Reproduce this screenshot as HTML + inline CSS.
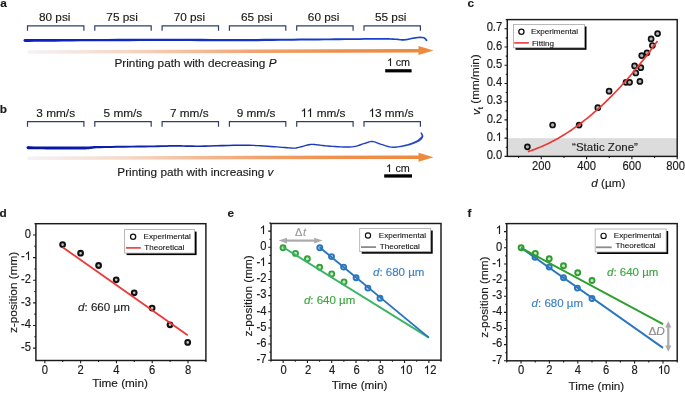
<!DOCTYPE html>
<html><head><meta charset="utf-8"><style>
html,body{margin:0;padding:0;background:#fff;}
svg{display:block;will-change:transform;}
svg{fill:#1a1a1a;} text{font-family:"Liberation Sans", sans-serif;} .o1{fill-opacity:0;stroke-opacity:0;}
</style></head><body>
<svg width="685" height="393" viewBox="0 0 685 393">
<rect width="685" height="393" fill="#fff"/>
<text stroke="#1a1a1a" stroke-width="0.15" x="0.3" y="6.8" font-size="11.8" font-weight="bold">a</text>
<text stroke="#1a1a1a" stroke-width="0.15" x="54.7" y="20.7" text-anchor="middle" font-size="11.8">80 psi</text>
<text stroke="#1a1a1a" stroke-width="0.15" x="122.1" y="20.7" text-anchor="middle" font-size="11.8">75 psi</text>
<text stroke="#1a1a1a" stroke-width="0.15" x="189.4" y="20.7" text-anchor="middle" font-size="11.8">70 psi</text>
<text stroke="#1a1a1a" stroke-width="0.15" x="256.8" y="20.7" text-anchor="middle" font-size="11.8">65 psi</text>
<text stroke="#1a1a1a" stroke-width="0.15" x="323.6" y="20.7" text-anchor="middle" font-size="11.8">60 psi</text>
<text stroke="#1a1a1a" stroke-width="0.15" x="390.7" y="20.7" text-anchor="middle" font-size="11.8">55 psi</text>
<path d="M27.5 30.8V25.8H83.9V30.8 M94.8 30.8V25.8H151.2V30.8 M162.1 30.8V25.8H218.5V30.8 M229.4 30.8V25.8H285.8V30.8 M296.7 30.8V25.8H353.1V30.8 M364 30.8V25.8H420.4V30.8" stroke="#2d4069" stroke-width="1.2" fill="none"/>
<defs><linearGradient id="ga" x1="28" x2="420" y1="0" y2="0" gradientUnits="userSpaceOnUse"><stop offset="0" stop-color="#f5f2f7"/><stop offset="0.25" stop-color="#f5d8c6"/><stop offset="0.45" stop-color="#f3b993"/><stop offset="0.6" stop-color="#f0a16c"/><stop offset="0.8" stop-color="#ee8f4c"/><stop offset="1" stop-color="#ee8a3d"/></linearGradient></defs>
<path d="M27.6 50.25L419 49.05L419 52.55L27.6 53.75Z" fill="url(#ga)"/>
<path d="M418.5 46.1L433.5 50.6L418.5 55.1Z" fill="#ee8a3d"/>
<defs><linearGradient id="bla" x1="25" x2="428" y1="0" y2="0" gradientUnits="userSpaceOnUse"><stop offset="0" stop-color="#0a20c0"/><stop offset="1" stop-color="#1a45d0"/></linearGradient></defs>
<path d="M25.01 41.95 L29.08 41.91 L34.31 41.85 L40.51 41.78 L47.51 41.71 L55.13 41.63 L63.21 41.54 L71.56 41.46 L80.01 41.37 L88.81 41.31 L98.25 41.26 L108.17 41.22 L118.44 41.17 L128.91 41.13 L139.42 41.09 L149.83 41.06 L160 41.05 L170.13 41.06 L180.47 41.08 L190.87 41.12 L201.25 41.16 L211.46 41.2 L221.4 41.24 L230.96 41.26 L240 41.25 L248.56 41.2 L256.77 41.14 L264.63 41.06 L272.2 40.97 L279.49 40.87 L286.53 40.78 L293.36 40.7 L300.01 40.62 L306.42 40.55 L312.55 40.48 L318.42 40.42 L324.07 40.36 L329.53 40.3 L334.81 40.24 L339.96 40.18 L345.01 40.12 L350 40.05 L354.93 39.98 L359.75 39.9 L364.39 39.83 L368.79 39.76 L372.9 39.7 L376.66 39.66 L380 39.64 L382.87 39.65 L385.28 39.67 L387.33 39.71 L389.1 39.75 L390.66 39.81 L392.1 39.88 L393.51 39.94 L394.96 40.01 L396.35 40.09 L397.6 40.21 L398.74 40.34 L399.81 40.47 L400.84 40.59 L401.88 40.68 L402.93 40.72 L404.04 40.7 L405.19 40.6 L406.33 40.43 L407.45 40.22 L408.55 39.98 L409.63 39.73 L410.67 39.48 L411.67 39.27 L412.64 39.09 L413.59 38.93 L414.53 38.78 L415.45 38.64 L416.34 38.5 L417.2 38.39 L418.02 38.3 L418.79 38.23 L419.52 38.2 L420.22 38.19 L420.89 38.2 L421.51 38.23 L422.1 38.29 L422.64 38.37 L423.14 38.47 L423.59 38.59 L423.97 38.73 L424.28 38.9 L424.57 39.13 L424.86 39.41 L425.12 39.73 L425.37 40.06 L425.59 40.39 L425.8 40.68 L425.98 40.9 L427.22 39.9 L427.08 39.72 L426.9 39.47 L426.67 39.13 L426.38 38.74 L426.04 38.33 L425.64 37.93 L425.16 37.56 L424.63 37.27 L424.08 37.07 L423.51 36.91 L422.92 36.79 L422.29 36.7 L421.63 36.64 L420.94 36.6 L420.22 36.59 L419.48 36.6 L418.69 36.64 L417.86 36.71 L417 36.8 L416.12 36.92 L415.21 37.05 L414.28 37.2 L413.33 37.35 L412.36 37.51 L411.35 37.7 L410.32 37.92 L409.26 38.17 L408.2 38.42 L407.13 38.65 L406.06 38.86 L405 39.01 L403.96 39.1 L402.95 39.12 L401.98 39.08 L401.01 39 L400 38.88 L398.93 38.74 L397.77 38.61 L396.48 38.48 L395.04 38.39 L393.59 38.32 L392.18 38.24 L390.73 38.17 L389.15 38.11 L387.37 38.05 L385.31 38 L382.88 37.97 L380 37.96 L376.65 37.96 L372.88 37.98 L368.77 38.02 L364.36 38.07 L359.72 38.13 L354.91 38.18 L349.98 38.24 L344.99 38.28 L339.95 38.32 L334.8 38.36 L329.51 38.39 L324.05 38.43 L318.4 38.46 L312.53 38.5 L306.4 38.54 L299.99 38.58 L293.34 38.63 L286.51 38.69 L279.47 38.75 L272.18 38.81 L264.61 38.86 L256.75 38.91 L248.55 38.94 L240 38.95 L230.96 38.96 L221.41 38.94 L211.47 38.9 L201.25 38.86 L190.88 38.82 L180.47 38.78 L170.14 38.76 L160 38.75 L149.83 38.76 L139.41 38.79 L128.9 38.83 L118.43 38.87 L108.16 38.92 L98.24 38.96 L88.8 39.01 L79.99 39.03 L71.55 39.02 L63.2 39.02 L55.12 39.03 L47.49 39.03 L40.49 39.04 L34.29 39.04 L29.06 39.05 L24.99 39.05Z" fill="url(#bla)"/>
<circle cx="25" cy="40.5" r="1.45" fill="#0a20c0"/>
<circle cx="426.6" cy="40.4" r="0.8" fill="#1a45d0"/>
<text stroke="#1a1a1a" stroke-width="0.15" x="114.5" y="66.9" font-size="11.75">Printing path with decreasing <tspan font-style="italic">P</tspan></text>
<rect x="385.2" y="69.2" width="26.4" height="3.2" fill="#000"/>
<text stroke="#1a1a1a" stroke-width="0.15" x="398.4" y="66.2" text-anchor="middle" font-size="10.8"><tspan class="o1">1</tspan> cm</text>
<text stroke="#1a1a1a" stroke-width="0.15" x="-0.2" y="112.6" font-size="11.8" font-weight="bold">b</text>
<text stroke="#1a1a1a" stroke-width="0.15" x="55.7" y="116.6" text-anchor="middle" font-size="11.8">3 mm/s</text>
<text stroke="#1a1a1a" stroke-width="0.15" x="122.9" y="116.6" text-anchor="middle" font-size="11.8">5 mm/s</text>
<text stroke="#1a1a1a" stroke-width="0.15" x="189.3" y="116.6" text-anchor="middle" font-size="11.8">7 mm/s</text>
<text stroke="#1a1a1a" stroke-width="0.15" x="256" y="116.6" text-anchor="middle" font-size="11.8">9 mm/s</text>
<text stroke="#1a1a1a" stroke-width="0.15" x="323.3" y="116.6" text-anchor="middle" font-size="11.8"><tspan class="o1">1</tspan><tspan class="o1">1</tspan> mm/s</text>
<text stroke="#1a1a1a" stroke-width="0.15" x="391" y="116.6" text-anchor="middle" font-size="11.8"><tspan class="o1">1</tspan>3 mm/s</text>
<path d="M27.5 126.7V121.7H83.9V126.7 M94.8 126.7V121.7H151.2V126.7 M162.1 126.7V121.7H218.5V126.7 M229.4 126.7V121.7H285.8V126.7 M296.7 126.7V121.7H353.1V126.7 M364 126.7V121.7H420.4V126.7" stroke="#2d4069" stroke-width="1.2" fill="none"/>
<defs><linearGradient id="gb" x1="28" x2="420" y1="0" y2="0" gradientUnits="userSpaceOnUse"><stop offset="0" stop-color="#f5f2f7"/><stop offset="0.25" stop-color="#f5d8c6"/><stop offset="0.45" stop-color="#f3b993"/><stop offset="0.6" stop-color="#f0a16c"/><stop offset="0.8" stop-color="#ee8f4c"/><stop offset="1" stop-color="#ee8a3d"/></linearGradient></defs>
<path d="M27.6 156.45L419 155.45L419 158.95L27.6 159.95Z" fill="url(#gb)"/>
<path d="M418.5 152.7L433.5 157.2L418.5 161.7Z" fill="#ee8a3d"/>
<defs><linearGradient id="blb" x1="25" x2="428" y1="0" y2="0" gradientUnits="userSpaceOnUse"><stop offset="0" stop-color="#0614a0"/><stop offset="1" stop-color="#2549c8"/></linearGradient></defs>
<path d="M27.99 149.25 L30.51 149.27 L33.9 149.29 L37.95 149.32 L42.43 149.35 L47.1 149.38 L51.73 149.41 L56.11 149.43 L59.99 149.45 L63.52 149.47 L66.97 149.49 L70.32 149.5 L73.56 149.52 L76.67 149.52 L79.62 149.52 L82.42 149.49 L85.04 149.45 L87.18 149.32 L88.74 149.18 L89.96 149.03 L91.07 148.88 L92.36 148.71 L94.1 148.54 L96.56 148.35 L100.03 148.15 L104.77 148.04 L110.64 147.93 L117.3 147.82 L124.39 147.72 L131.55 147.62 L138.45 147.52 L144.72 147.42 L150.01 147.33 L154.34 147.25 L158.03 147.16 L161.23 147.07 L164.09 146.99 L166.74 146.91 L169.35 146.85 L172.06 146.8 L175 146.77 L177.98 146.78 L180.77 146.81 L183.49 146.87 L186.25 146.93 L189.17 146.99 L192.36 147.03 L195.94 147.05 L200.01 147.02 L204.76 146.93 L210.15 146.78 L215.99 146.59 L222.06 146.39 L228.16 146.2 L234.09 146.04 L239.64 145.94 L244.6 145.91 L249.04 145.97 L253.19 146.1 L257.09 146.28 L260.76 146.5 L264.23 146.73 L267.53 146.97 L270.7 147.2 L273.75 147.4 L276.7 147.59 L279.52 147.8 L282.19 148.02 L284.7 148.24 L287.03 148.43 L289.17 148.6 L291.09 148.73 L292.78 148.8 L294.11 148.83 L295.06 148.82 L295.75 148.78 L296.29 148.71 L296.76 148.59 L297.23 148.45 L297.85 148.29 L298.76 148.08 L299.98 147.8 L301.4 147.43 L302.94 147 L304.54 146.56 L306.15 146.12 L307.71 145.73 L309.14 145.41 L310.4 145.19 L311.44 145.08 L312.32 145.05 L313.1 145.07 L313.83 145.13 L314.59 145.23 L315.42 145.35 L316.39 145.48 L317.53 145.6 L318.76 145.72 L320.03 145.87 L321.37 146.04 L322.8 146.23 L324.35 146.41 L326.04 146.59 L327.91 146.76 L329.96 146.9 L332.31 147.04 L335 147.21 L337.93 147.38 L340.96 147.53 L344 147.65 L346.91 147.71 L349.6 147.7 L351.95 147.6 L353.97 147.37 L355.77 147.03 L357.36 146.61 L358.8 146.14 L360.13 145.65 L361.37 145.18 L362.57 144.74 L363.8 144.37 L365.04 144.01 L366.21 143.63 L367.31 143.24 L368.34 142.89 L369.34 142.59 L370.32 142.36 L371.29 142.23 L372.27 142.2 L373.26 142.3 L374.24 142.52 L375.23 142.84 L376.25 143.23 L377.32 143.67 L378.44 144.13 L379.63 144.57 L380.89 144.97 L382.19 145.36 L383.53 145.8 L384.93 146.27 L386.39 146.73 L387.9 147.16 L389.47 147.52 L391.1 147.78 L392.78 147.9 L394.55 147.88 L396.42 147.75 L398.35 147.52 L400.31 147.22 L402.26 146.89 L404.15 146.54 L405.95 146.18 L407.61 145.83 L409.16 145.45 L410.67 145.03 L412.11 144.58 L413.48 144.1 L414.77 143.61 L415.98 143.1 L417.1 142.58 L418.14 142.05 L419.09 141.51 L419.97 140.94 L420.76 140.34 L421.45 139.72 L422.06 139.08 L422.53 138.41 L422.91 137.75 L423.21 137.06 L423.36 136.27 L423.29 135.5 L423.06 134.83 L422.77 134.24 L422.45 133.72 L422.15 133.29 L421.93 132.97 L421.79 132.74 L420.61 133.26 L420.72 133.59 L420.92 134 L421.13 134.45 L421.32 134.91 L421.46 135.37 L421.53 135.78 L421.5 136.08 L421.39 136.34 L421.15 136.69 L420.8 137.11 L420.35 137.56 L419.86 138.06 L419.28 138.57 L418.63 139.1 L417.89 139.63 L417.06 140.15 L416.13 140.67 L415.1 141.2 L413.97 141.74 L412.76 142.27 L411.47 142.79 L410.11 143.28 L408.68 143.74 L407.19 144.17 L405.58 144.6 L403.83 145.03 L401.98 145.46 L400.08 145.83 L398.16 146.13 L396.28 146.35 L394.49 146.48 L392.82 146.5 L391.26 146.39 L389.74 146.14 L388.25 145.8 L386.79 145.39 L385.36 144.94 L383.97 144.47 L382.61 144.03 L381.31 143.63 L380.09 143.25 L378.95 142.82 L377.85 142.38 L376.77 141.93 L375.7 141.52 L374.61 141.17 L373.49 140.92 L372.33 140.8 L371.17 140.83 L370.06 140.99 L368.98 141.24 L367.92 141.56 L366.85 141.92 L365.76 142.3 L364.62 142.67 L363.4 143.03 L362.13 143.41 L360.88 143.87 L359.63 144.34 L358.35 144.82 L356.97 145.27 L355.46 145.67 L353.77 145.99 L351.85 146.2 L349.57 146.3 L346.93 146.31 L344.04 146.25 L341.03 146.13 L338 145.98 L335.09 145.81 L332.4 145.64 L330.04 145.5 L328.02 145.36 L326.18 145.2 L324.51 145.02 L322.97 144.84 L321.55 144.65 L320.2 144.48 L318.92 144.33 L317.67 144.2 L316.55 144.09 L315.61 143.97 L314.78 143.85 L313.98 143.74 L313.18 143.67 L312.31 143.65 L311.34 143.69 L310.2 143.81 L308.87 144.03 L307.38 144.36 L305.8 144.77 L304.17 145.21 L302.56 145.65 L301.03 146.08 L299.64 146.44 L298.44 146.72 L297.52 146.93 L296.86 147.1 L296.39 147.24 L296.02 147.33 L295.62 147.39 L295.02 147.42 L294.12 147.43 L292.82 147.4 L291.17 147.33 L289.27 147.2 L287.15 147.04 L284.82 146.84 L282.31 146.63 L279.63 146.41 L276.8 146.2 L273.85 146 L270.79 145.8 L267.63 145.58 L264.32 145.34 L260.84 145.1 L257.16 144.88 L253.25 144.7 L249.07 144.57 L244.6 144.49 L239.62 144.49 L234.06 144.57 L228.12 144.7 L222.01 144.86 L215.94 145.03 L210.11 145.19 L204.73 145.31 L199.99 145.38 L195.94 145.39 L192.38 145.36 L189.21 145.31 L186.3 145.23 L183.53 145.16 L180.81 145.09 L178 145.04 L175 145.03 L172.04 145.04 L169.32 145.08 L166.7 145.13 L164.04 145.19 L161.18 145.26 L157.99 145.33 L154.3 145.4 L149.99 145.47 L144.69 145.53 L138.43 145.6 L131.53 145.66 L124.36 145.73 L117.27 145.8 L110.61 145.88 L104.73 145.96 L99.97 146.05 L96.47 146.07 L93.95 146.12 L92.14 146.21 L90.8 146.31 L89.68 146.41 L88.53 146.48 L87.05 146.54 L84.96 146.55 L82.38 146.59 L79.61 146.62 L76.66 146.62 L73.57 146.62 L70.33 146.6 L66.98 146.59 L63.54 146.57 L60.01 146.55 L56.12 146.53 L51.75 146.51 L47.12 146.48 L42.45 146.45 L37.97 146.42 L33.92 146.39 L30.53 146.37 L28.01 146.35Z" fill="url(#blb)"/>
<circle cx="28" cy="147.8" r="1.45" fill="#0614a0"/>
<circle cx="421.2" cy="133" r="0.65" fill="#2549c8"/>
<text stroke="#1a1a1a" stroke-width="0.15" x="117.3" y="175.9" font-size="11.75">Printing path with increasing <tspan font-style="italic">v</tspan></text>
<rect x="384.2" y="174.3" width="27.8" height="3.3" fill="#000"/>
<text stroke="#1a1a1a" stroke-width="0.15" x="398.1" y="171.8" text-anchor="middle" font-size="10.8"><tspan class="o1">1</tspan> cm</text>
<text stroke="#1a1a1a" stroke-width="0.15" x="467.6" y="6.9" font-size="11.8" font-weight="bold">c</text>
<rect x="507.3" y="138.16" width="169.9" height="18.24" fill="#dcdcdc"/>
<text stroke="#222" stroke-width="0.15" x="605" y="150.8" text-anchor="middle" font-size="11.5" fill="#222">“Static Zone”</text>
<circle cx="527.4" cy="146.8" r="2.5" fill="#b4b4b4" stroke="#111" stroke-width="1.7"/>
<circle cx="552.6" cy="125" r="2.5" fill="#b4b4b4" stroke="#111" stroke-width="1.7"/>
<circle cx="579.1" cy="125.1" r="2.5" fill="#b4b4b4" stroke="#111" stroke-width="1.7"/>
<circle cx="597.8" cy="107.7" r="2.5" fill="#b4b4b4" stroke="#111" stroke-width="1.7"/>
<circle cx="609.1" cy="91.2" r="2.5" fill="#b4b4b4" stroke="#111" stroke-width="1.7"/>
<circle cx="626" cy="82.3" r="2.5" fill="#b4b4b4" stroke="#111" stroke-width="1.7"/>
<circle cx="629.6" cy="82.3" r="2.5" fill="#b4b4b4" stroke="#111" stroke-width="1.7"/>
<circle cx="639.9" cy="81.4" r="2.5" fill="#b4b4b4" stroke="#111" stroke-width="1.7"/>
<circle cx="634.6" cy="65.9" r="2.5" fill="#b4b4b4" stroke="#111" stroke-width="1.7"/>
<circle cx="640.8" cy="67.7" r="2.5" fill="#b4b4b4" stroke="#111" stroke-width="1.7"/>
<circle cx="635.8" cy="73" r="2.5" fill="#b4b4b4" stroke="#111" stroke-width="1.7"/>
<circle cx="641.7" cy="55.6" r="2.5" fill="#b4b4b4" stroke="#111" stroke-width="1.7"/>
<circle cx="647" cy="52.8" r="2.5" fill="#b4b4b4" stroke="#111" stroke-width="1.7"/>
<circle cx="652.4" cy="45.5" r="2.5" fill="#b4b4b4" stroke="#111" stroke-width="1.7"/>
<circle cx="651.1" cy="38.9" r="2.5" fill="#b4b4b4" stroke="#111" stroke-width="1.7"/>
<circle cx="657.6" cy="33.6" r="2.5" fill="#b4b4b4" stroke="#111" stroke-width="1.7"/>
<path d="M527.91 151.64 L531.24 150.54 L534.56 149.34 L537.88 148.05 L541.2 146.68 L544.53 145.21 L547.85 143.65 L551.17 142 L554.49 140.25 L557.82 138.42 L561.14 136.49 L564.46 134.48 L567.78 132.37 L571.11 130.17 L574.43 127.88 L577.75 125.49 L581.07 123.02 L584.4 120.45 L587.72 117.8 L591.04 115.05 L594.36 112.21 L597.69 109.28 L601.01 106.26 L604.33 103.15 L607.65 99.94 L610.98 96.65 L614.3 93.26 L617.62 89.78 L620.94 86.21 L624.27 82.55 L627.59 78.8 L630.91 74.95 L634.23 71.02 L637.56 66.99 L640.88 62.87 L644.2 58.66 L647.52 54.36 L650.85 49.97 L654.17 45.49 L657.49 40.91" stroke="#ee3838" stroke-width="1.7" fill="none"/>
<rect x="507.3" y="19.6" width="169.9" height="136.8" fill="none" stroke="#1a1a1a" stroke-width="1.45"/>
<path d="M541.28 156.4v2.8 M586.59 156.4v2.8 M631.89 156.4v2.8 M677.2 156.4v2.8 M518.63 156.4v1.6 M563.93 156.4v1.6 M609.24 156.4v1.6 M654.55 156.4v1.6" stroke="#1a1a1a" stroke-width="1.1" fill="none"/>
<text stroke="#1a1a1a" stroke-width="0.15" transform="translate(541.28 170.2) scale(1 1.06)" text-anchor="middle" font-size="11.2">200</text>
<text stroke="#1a1a1a" stroke-width="0.15" transform="translate(586.59 170.2) scale(1 1.06)" text-anchor="middle" font-size="11.2">400</text>
<text stroke="#1a1a1a" stroke-width="0.15" transform="translate(631.89 170.2) scale(1 1.06)" text-anchor="middle" font-size="11.2">600</text>
<text stroke="#1a1a1a" stroke-width="0.15" transform="translate(675.7 170.2) scale(1 1.06)" text-anchor="middle" font-size="11.2">800</text>
<path d="M507.3 156.4h-2.8 M507.3 138.16h-2.8 M507.3 119.92h-2.8 M507.3 101.68h-2.8 M507.3 83.44h-2.8 M507.3 65.2h-2.8 M507.3 46.96h-2.8 M507.3 28.72h-2.8 M507.3 147.28h-1.6 M507.3 129.04h-1.6 M507.3 110.8h-1.6 M507.3 92.56h-1.6 M507.3 74.32h-1.6 M507.3 56.08h-1.6 M507.3 37.84h-1.6 M507.3 19.6h-1.6" stroke="#1a1a1a" stroke-width="1.1" fill="none"/>
<text stroke="#1a1a1a" stroke-width="0.15" transform="translate(502.2 159.15) scale(1 1.06)" text-anchor="end" font-size="11.2">0.0</text>
<text stroke="#1a1a1a" stroke-width="0.15" transform="translate(502.2 140.91) scale(1 1.06)" text-anchor="end" font-size="11.2">0.<tspan class="o1">1</tspan></text>
<text stroke="#1a1a1a" stroke-width="0.15" transform="translate(502.2 122.67) scale(1 1.06)" text-anchor="end" font-size="11.2">0.2</text>
<text stroke="#1a1a1a" stroke-width="0.15" transform="translate(502.2 104.43) scale(1 1.06)" text-anchor="end" font-size="11.2">0.3</text>
<text stroke="#1a1a1a" stroke-width="0.15" transform="translate(502.2 86.19) scale(1 1.06)" text-anchor="end" font-size="11.2">0.4</text>
<text stroke="#1a1a1a" stroke-width="0.15" transform="translate(502.2 67.95) scale(1 1.06)" text-anchor="end" font-size="11.2">0.5</text>
<text stroke="#1a1a1a" stroke-width="0.15" transform="translate(502.2 49.71) scale(1 1.06)" text-anchor="end" font-size="11.2">0.6</text>
<text stroke="#1a1a1a" stroke-width="0.15" transform="translate(502.2 31.47) scale(1 1.06)" text-anchor="end" font-size="11.2">0.7</text>
<text stroke="#1a1a1a" stroke-width="0.15" x="608.3" y="186.7" text-anchor="middle" font-size="11.7"><tspan font-style="italic">d</tspan> (µm)</text>
<text stroke="#1a1a1a" stroke-width="0.15" transform="translate(479.4,84.7) rotate(-90)" text-anchor="middle" font-size="11.7"><tspan font-style="italic" dy="0.8">v</tspan><tspan font-size="8" dy="2.8">t</tspan><tspan dy="-3.6"> (mm/min)</tspan></text>
<rect x="515.5" y="26.5" width="71" height="23.3" fill="#000"/>
<rect x="513.5" y="24.5" width="71" height="23.3" fill="#fff" stroke="#a8a8a8" stroke-width="0.8"/>
<circle cx="521.4" cy="31.7" r="2.6" fill="#fff" stroke="#111" stroke-width="1.3"/>
<text x="530.9" y="34.2" font-size="8.1" fill="#111" stroke="#111" stroke-width="0.1">Experimental</text>
<path d="M514.2 42.9H528.9" stroke="#e8393b" stroke-width="1.6"/>
<text x="531.9" y="45.6" font-size="8.1" fill="#111" stroke="#111" stroke-width="0.1">Fitting</text>
<text stroke="#1a1a1a" stroke-width="0.15" x="-0.4" y="217.2" font-size="11.8" font-weight="bold">d</text>
<circle cx="62.6" cy="244.6" r="2.35" fill="#c8c8c8" stroke="#111" stroke-width="2.1"/>
<circle cx="80.6" cy="253.2" r="2.35" fill="#c8c8c8" stroke="#111" stroke-width="2.1"/>
<circle cx="98.6" cy="265.5" r="2.35" fill="#c8c8c8" stroke="#111" stroke-width="2.1"/>
<circle cx="116.2" cy="279.8" r="2.35" fill="#c8c8c8" stroke="#111" stroke-width="2.1"/>
<circle cx="134.2" cy="292.8" r="2.35" fill="#c8c8c8" stroke="#111" stroke-width="2.1"/>
<circle cx="152.1" cy="308.1" r="2.35" fill="#c8c8c8" stroke="#111" stroke-width="2.1"/>
<circle cx="170" cy="324.8" r="2.35" fill="#c8c8c8" stroke="#111" stroke-width="2.1"/>
<circle cx="187.7" cy="342.4" r="2.35" fill="#c8c8c8" stroke="#111" stroke-width="2.1"/>
<path d="M62.6 247.2L187.7 335.2" stroke="#ee3838" stroke-width="1.8"/>
<rect x="35.9" y="223.7" width="170" height="136.8" fill="none" stroke="#1a1a1a" stroke-width="1.45"/>
<path d="M44.85 360.5v2.8 M80.64 360.5v2.8 M116.43 360.5v2.8 M152.22 360.5v2.8 M188.01 360.5v2.8 M62.74 360.5v1.6 M98.53 360.5v1.6 M134.32 360.5v1.6 M170.11 360.5v1.6 M205.9 360.5v1.6" stroke="#1a1a1a" stroke-width="1.1" fill="none"/>
<text stroke="#1a1a1a" stroke-width="0.15" transform="translate(44.85 373.6) scale(1 1.06)" text-anchor="middle" font-size="11.2">0</text>
<text stroke="#1a1a1a" stroke-width="0.15" transform="translate(80.64 373.6) scale(1 1.06)" text-anchor="middle" font-size="11.2">2</text>
<text stroke="#1a1a1a" stroke-width="0.15" transform="translate(116.43 373.6) scale(1 1.06)" text-anchor="middle" font-size="11.2">4</text>
<text stroke="#1a1a1a" stroke-width="0.15" transform="translate(152.22 373.6) scale(1 1.06)" text-anchor="middle" font-size="11.2">6</text>
<text stroke="#1a1a1a" stroke-width="0.15" transform="translate(188.01 373.6) scale(1 1.06)" text-anchor="middle" font-size="11.2">8</text>
<path d="M35.9 235h-2.8 M35.9 257.62h-2.8 M35.9 280.24h-2.8 M35.9 302.86h-2.8 M35.9 325.48h-2.8 M35.9 348.1h-2.8 M35.9 223.69h-1.6 M35.9 246.31h-1.6 M35.9 268.93h-1.6 M35.9 291.55h-1.6 M35.9 314.17h-1.6 M35.9 336.79h-1.6" stroke="#1a1a1a" stroke-width="1.1" fill="none"/>
<text stroke="#1a1a1a" stroke-width="0.15" transform="translate(31 237.75) scale(1 1.06)" text-anchor="end" font-size="11.2">0</text>
<text stroke="#1a1a1a" stroke-width="0.15" transform="translate(31 260.37) scale(1 1.06)" text-anchor="end" font-size="11.2">-<tspan class="o1">1</tspan></text>
<text stroke="#1a1a1a" stroke-width="0.15" transform="translate(31 282.99) scale(1 1.06)" text-anchor="end" font-size="11.2">-2</text>
<text stroke="#1a1a1a" stroke-width="0.15" transform="translate(31 305.61) scale(1 1.06)" text-anchor="end" font-size="11.2">-3</text>
<text stroke="#1a1a1a" stroke-width="0.15" transform="translate(31 328.23) scale(1 1.06)" text-anchor="end" font-size="11.2">-4</text>
<text stroke="#1a1a1a" stroke-width="0.15" transform="translate(31 350.85) scale(1 1.06)" text-anchor="end" font-size="11.2">-5</text>
<text stroke="#1a1a1a" stroke-width="0.15" x="120.1" y="386.9" text-anchor="middle" font-size="11.75">Time (min)</text>
<text stroke="#1a1a1a" stroke-width="0.15" transform="translate(17.2,292.4) rotate(-90)" text-anchor="middle" font-size="11.8">z-position (mm)</text>
<text stroke="#222" stroke-width="0.15" x="78" y="310.8" font-size="11.6" fill="#222"><tspan font-style="italic">d</tspan>: 660 µm</text>
<rect x="126.6" y="231.6" width="70" height="23.5" fill="#000"/>
<rect x="124.6" y="229.6" width="70" height="23.5" fill="#fff" stroke="#a8a8a8" stroke-width="0.8"/>
<circle cx="133.1" cy="236.7" r="2.6" fill="#fff" stroke="#111" stroke-width="1.3"/>
<text x="143.6" y="239.2" font-size="8.1" fill="#111" stroke="#111" stroke-width="0.1">Experimental</text>
<path d="M125.9 247.9H140.8" stroke="#e8393b" stroke-width="1.6"/>
<text x="144.3" y="250.3" font-size="8.1" fill="#111" stroke="#111" stroke-width="0.1">Theoretical</text>
<text stroke="#1a1a1a" stroke-width="0.15" x="227.6" y="217.1" font-size="11.8" font-weight="bold">e</text>
<circle cx="283" cy="247.7" r="2.5" fill="#c9e6c9" stroke="#33a23a" stroke-width="1.9"/>
<circle cx="295.5" cy="253.4" r="2.5" fill="#c9e6c9" stroke="#33a23a" stroke-width="1.9"/>
<circle cx="307.4" cy="258.7" r="2.5" fill="#c9e6c9" stroke="#33a23a" stroke-width="1.9"/>
<circle cx="319.6" cy="267.3" r="2.5" fill="#c9e6c9" stroke="#33a23a" stroke-width="1.9"/>
<circle cx="331.7" cy="273.9" r="2.5" fill="#c9e6c9" stroke="#33a23a" stroke-width="1.9"/>
<circle cx="344" cy="281.9" r="2.5" fill="#c9e6c9" stroke="#33a23a" stroke-width="1.9"/>
<circle cx="319.8" cy="247.7" r="2.5" fill="#c4d8ee" stroke="#2a76be" stroke-width="1.9"/>
<circle cx="331.5" cy="256.6" r="2.5" fill="#c4d8ee" stroke="#2a76be" stroke-width="1.9"/>
<circle cx="343.6" cy="267.1" r="2.5" fill="#c4d8ee" stroke="#2a76be" stroke-width="1.9"/>
<circle cx="356.1" cy="277.8" r="2.5" fill="#c4d8ee" stroke="#2a76be" stroke-width="1.9"/>
<circle cx="367.9" cy="288.1" r="2.5" fill="#c4d8ee" stroke="#2a76be" stroke-width="1.9"/>
<circle cx="380" cy="298.3" r="2.5" fill="#c4d8ee" stroke="#2a76be" stroke-width="1.9"/>
<path d="M283.14 247.28L428.86 337.62" stroke="#3cb465" stroke-width="1.9"/>
<path d="M319.57 247.28L428.86 337.62" stroke="#2a76be" stroke-width="1.9"/>
<rect x="271" y="223.5" width="170" height="136.7" fill="none" stroke="#1a1a1a" stroke-width="1.45"/>
<path d="M283.14 360.2v2.8 M307.43 360.2v2.8 M331.71 360.2v2.8 M356 360.2v2.8 M380.29 360.2v2.8 M404.57 360.2v2.8 M428.86 360.2v2.8 M271 360.2v1.6 M295.29 360.2v1.6 M319.57 360.2v1.6 M343.86 360.2v1.6 M368.14 360.2v1.6 M392.43 360.2v1.6 M416.71 360.2v1.6 M441 360.2v1.6" stroke="#1a1a1a" stroke-width="1.1" fill="none"/>
<text stroke="#1a1a1a" stroke-width="0.15" transform="translate(283.64 373.6) scale(1 1.06)" text-anchor="middle" font-size="11.2">0</text>
<text stroke="#1a1a1a" stroke-width="0.15" transform="translate(308.13 373.6) scale(1 1.06)" text-anchor="middle" font-size="11.2">2</text>
<text stroke="#1a1a1a" stroke-width="0.15" transform="translate(332.11 373.6) scale(1 1.06)" text-anchor="middle" font-size="11.2">4</text>
<text stroke="#1a1a1a" stroke-width="0.15" transform="translate(356.5 373.6) scale(1 1.06)" text-anchor="middle" font-size="11.2">6</text>
<text stroke="#1a1a1a" stroke-width="0.15" transform="translate(380.79 373.6) scale(1 1.06)" text-anchor="middle" font-size="11.2">8</text>
<text stroke="#1a1a1a" stroke-width="0.15" transform="translate(406.17 373.6) scale(1 1.06)" text-anchor="middle" font-size="11.2"><tspan class="o1">1</tspan>0</text>
<text stroke="#1a1a1a" stroke-width="0.15" transform="translate(430.16 373.6) scale(1 1.06)" text-anchor="middle" font-size="11.2"><tspan class="o1">1</tspan>2</text>
<path d="M271 231.15h-2.8 M271 247.28h-2.8 M271 263.41h-2.8 M271 279.54h-2.8 M271 295.67h-2.8 M271 311.8h-2.8 M271 327.94h-2.8 M271 344.07h-2.8 M271 360.2h-2.8 M271 223.08h-1.6 M271 239.21h-1.6 M271 255.34h-1.6 M271 271.48h-1.6 M271 287.61h-1.6 M271 303.74h-1.6 M271 319.87h-1.6 M271 336h-1.6 M271 352.13h-1.6" stroke="#1a1a1a" stroke-width="1.1" fill="none"/>
<text stroke="#1a1a1a" stroke-width="0.15" transform="translate(266.5 233.9) scale(1 1.06)" text-anchor="end" font-size="11.2"><tspan class="o1">1</tspan></text>
<text stroke="#1a1a1a" stroke-width="0.15" transform="translate(266.5 250.03) scale(1 1.06)" text-anchor="end" font-size="11.2">0</text>
<text stroke="#1a1a1a" stroke-width="0.15" transform="translate(266.5 266.16) scale(1 1.06)" text-anchor="end" font-size="11.2">-<tspan class="o1">1</tspan></text>
<text stroke="#1a1a1a" stroke-width="0.15" transform="translate(266.5 282.29) scale(1 1.06)" text-anchor="end" font-size="11.2">-2</text>
<text stroke="#1a1a1a" stroke-width="0.15" transform="translate(266.5 298.42) scale(1 1.06)" text-anchor="end" font-size="11.2">-3</text>
<text stroke="#1a1a1a" stroke-width="0.15" transform="translate(266.5 314.55) scale(1 1.06)" text-anchor="end" font-size="11.2">-4</text>
<text stroke="#1a1a1a" stroke-width="0.15" transform="translate(266.5 330.69) scale(1 1.06)" text-anchor="end" font-size="11.2">-5</text>
<text stroke="#1a1a1a" stroke-width="0.15" transform="translate(266.5 346.82) scale(1 1.06)" text-anchor="end" font-size="11.2">-6</text>
<text stroke="#1a1a1a" stroke-width="0.15" transform="translate(266.5 362.95) scale(1 1.06)" text-anchor="end" font-size="11.2">-7</text>
<text stroke="#1a1a1a" stroke-width="0.15" x="359.6" y="389.2" text-anchor="middle" font-size="11.75">Time (min)</text>
<text stroke="#1a1a1a" stroke-width="0.15" transform="translate(251.8,295.9) rotate(-90)" text-anchor="middle" font-size="11.8">z-position (mm)</text>
<path d="M286 240.6H315" stroke="#aaa" stroke-width="2.2"/>
<path d="M278.6 240.6L287 237.8L287 243.4Z M322.6 240.6L314.2 237.8L314.2 243.4Z" fill="#aaa"/>
<text stroke="#999" stroke-width="0.15" x="300.6" y="236" text-anchor="middle" font-size="11" fill="#999">Δ<tspan font-style="italic" dx="0.7">t</tspan></text>
<text stroke="#3b82c4" stroke-width="0.15" x="373" y="275.8" font-size="11.5" fill="#3b82c4"><tspan font-style="italic">d</tspan>: 680 µm</text>
<text stroke="#3aa63f" stroke-width="0.15" x="303.9" y="304.2" font-size="11.5" fill="#3aa63f"><tspan font-style="italic">d</tspan>: 640 µm</text>
<rect x="361.7" y="230.5" width="71" height="23.2" fill="#000"/>
<rect x="359.7" y="228.5" width="71" height="23.2" fill="#fff" stroke="#a8a8a8" stroke-width="0.8"/>
<circle cx="368" cy="235.5" r="2.6" fill="#fff" stroke="#111" stroke-width="1.15"/>
<text x="378.8" y="238" font-size="8.1" fill="#111" stroke="#111" stroke-width="0.1">Experimental</text>
<path d="M361 247.1H376.1" stroke="#8c8c8c" stroke-width="1.8"/>
<text x="379.8" y="249.1" font-size="8.1" fill="#111" stroke="#111" stroke-width="0.1">Theoretical</text>
<text stroke="#1a1a1a" stroke-width="0.15" x="467.6" y="216.8" font-size="11.8" font-weight="bold">f</text>
<circle cx="535" cy="257.3" r="2.5" fill="#c4d8ee" stroke="#2a76be" stroke-width="1.9"/>
<circle cx="549.2" cy="267.1" r="2.5" fill="#c4d8ee" stroke="#2a76be" stroke-width="1.9"/>
<circle cx="563.5" cy="277.8" r="2.5" fill="#c4d8ee" stroke="#2a76be" stroke-width="1.9"/>
<circle cx="577.4" cy="288.1" r="2.5" fill="#c4d8ee" stroke="#2a76be" stroke-width="1.9"/>
<circle cx="592" cy="298.5" r="2.5" fill="#c4d8ee" stroke="#2a76be" stroke-width="1.9"/>
<circle cx="521.1" cy="247.8" r="2.5" fill="#c9e6c9" stroke="#2e9e2e" stroke-width="1.9"/>
<circle cx="535.3" cy="253.4" r="2.5" fill="#c9e6c9" stroke="#2e9e2e" stroke-width="1.9"/>
<circle cx="549.2" cy="258.7" r="2.5" fill="#c9e6c9" stroke="#2e9e2e" stroke-width="1.9"/>
<circle cx="563.5" cy="265.8" r="2.5" fill="#c9e6c9" stroke="#2e9e2e" stroke-width="1.9"/>
<circle cx="577.7" cy="272.8" r="2.5" fill="#c9e6c9" stroke="#2e9e2e" stroke-width="1.9"/>
<circle cx="592" cy="280.5" r="2.5" fill="#c9e6c9" stroke="#2e9e2e" stroke-width="1.9"/>
<path d="M521 247.81L663 347.89" stroke="#2a76be" stroke-width="1.9"/>
<path d="M521 247.81L663 324.16" stroke="#2e9e2e" stroke-width="1.9"/>
<rect x="506.8" y="223.6" width="170.4" height="137.2" fill="none" stroke="#1a1a1a" stroke-width="1.45"/>
<path d="M521 360.8v2.8 M549.4 360.8v2.8 M577.8 360.8v2.8 M606.2 360.8v2.8 M634.6 360.8v2.8 M663 360.8v2.8 M506.8 360.8v1.6 M535.2 360.8v1.6 M563.6 360.8v1.6 M592 360.8v1.6 M620.4 360.8v1.6 M648.8 360.8v1.6 M677.2 360.8v1.6" stroke="#1a1a1a" stroke-width="1.1" fill="none"/>
<text stroke="#1a1a1a" stroke-width="0.15" transform="translate(521 373.7) scale(1 1.06)" text-anchor="middle" font-size="11.2">0</text>
<text stroke="#1a1a1a" stroke-width="0.15" transform="translate(549.4 373.7) scale(1 1.06)" text-anchor="middle" font-size="11.2">2</text>
<text stroke="#1a1a1a" stroke-width="0.15" transform="translate(577.8 373.7) scale(1 1.06)" text-anchor="middle" font-size="11.2">4</text>
<text stroke="#1a1a1a" stroke-width="0.15" transform="translate(606.2 373.7) scale(1 1.06)" text-anchor="middle" font-size="11.2">6</text>
<text stroke="#1a1a1a" stroke-width="0.15" transform="translate(634.6 373.7) scale(1 1.06)" text-anchor="middle" font-size="11.2">8</text>
<text stroke="#1a1a1a" stroke-width="0.15" transform="translate(663.8 373.7) scale(1 1.06)" text-anchor="middle" font-size="11.2"><tspan class="o1">1</tspan>0</text>
<path d="M506.8 231.67h-2.8 M506.8 247.81h-2.8 M506.8 263.95h-2.8 M506.8 280.09h-2.8 M506.8 296.24h-2.8 M506.8 312.38h-2.8 M506.8 328.52h-2.8 M506.8 344.66h-2.8 M506.8 360.8h-2.8 M506.8 223.6h-1.6 M506.8 239.74h-1.6 M506.8 255.88h-1.6 M506.8 272.02h-1.6 M506.8 288.16h-1.6 M506.8 304.31h-1.6 M506.8 320.45h-1.6 M506.8 336.59h-1.6 M506.8 352.73h-1.6" stroke="#1a1a1a" stroke-width="1.1" fill="none"/>
<text stroke="#1a1a1a" stroke-width="0.15" transform="translate(502.3 234.42) scale(1 1.06)" text-anchor="end" font-size="11.2"><tspan class="o1">1</tspan></text>
<text stroke="#1a1a1a" stroke-width="0.15" transform="translate(502.3 250.56) scale(1 1.06)" text-anchor="end" font-size="11.2">0</text>
<text stroke="#1a1a1a" stroke-width="0.15" transform="translate(502.3 266.7) scale(1 1.06)" text-anchor="end" font-size="11.2">-<tspan class="o1">1</tspan></text>
<text stroke="#1a1a1a" stroke-width="0.15" transform="translate(502.3 282.84) scale(1 1.06)" text-anchor="end" font-size="11.2">-2</text>
<text stroke="#1a1a1a" stroke-width="0.15" transform="translate(502.3 298.99) scale(1 1.06)" text-anchor="end" font-size="11.2">-3</text>
<text stroke="#1a1a1a" stroke-width="0.15" transform="translate(502.3 315.13) scale(1 1.06)" text-anchor="end" font-size="11.2">-4</text>
<text stroke="#1a1a1a" stroke-width="0.15" transform="translate(502.3 331.27) scale(1 1.06)" text-anchor="end" font-size="11.2">-5</text>
<text stroke="#1a1a1a" stroke-width="0.15" transform="translate(502.3 347.41) scale(1 1.06)" text-anchor="end" font-size="11.2">-6</text>
<text stroke="#1a1a1a" stroke-width="0.15" transform="translate(502.3 363.55) scale(1 1.06)" text-anchor="end" font-size="11.2">-7</text>
<text stroke="#1a1a1a" stroke-width="0.15" x="596.4" y="390" text-anchor="middle" font-size="11.75">Time (min)</text>
<text stroke="#1a1a1a" stroke-width="0.15" transform="translate(487.5,297.1) rotate(-90)" text-anchor="middle" font-size="11.8">z-position (mm)</text>
<path d="M668.3 327V346" stroke="#aaa" stroke-width="2.2"/>
<path d="M668.3 321.2L665.2 327.4L671.4 327.4Z M668.3 351.8L665.2 345.6L671.4 345.6Z" fill="#aaa"/>
<text stroke="#8a8a8a" stroke-width="0.15" x="664.8" y="335.1" text-anchor="end" font-size="11.8" fill="#8a8a8a">Δ<tspan font-style="italic">D</tspan></text>
<text stroke="#3aa63f" stroke-width="0.15" x="607" y="275.8" font-size="11.5" fill="#3aa63f"><tspan font-style="italic">d</tspan>: 640 µm</text>
<text stroke="#3b82c4" stroke-width="0.15" x="531.6" y="306.6" font-size="11.5" fill="#3b82c4"><tspan font-style="italic">d</tspan>: 680 µm</text>
<rect x="597.2" y="231" width="71" height="23" fill="#000"/>
<rect x="595.2" y="229" width="71" height="23" fill="#fff" stroke="#a8a8a8" stroke-width="0.8"/>
<circle cx="603.6" cy="235.9" r="2.6" fill="#fff" stroke="#111" stroke-width="1.15"/>
<text x="613.8" y="238" font-size="8.1" fill="#111" stroke="#111" stroke-width="0.1">Experimental</text>
<path d="M596 247.3H611.7" stroke="#8c8c8c" stroke-width="1.8"/>
<text x="615.4" y="248.2" font-size="8.1" fill="#111" stroke="#111" stroke-width="0.1">Theoretical</text>
<path transform="translate(386.926 66.000) scale(0.005273 -0.005273)" d="M763 0H583V1147Q518 1085 412.5 1023Q307 961 223 930V1104Q374 1175 487 1276Q600 1377 647 1466H763Z" fill="#1a1a1a" stroke="#1a1a1a" stroke-width="28.44"/>
<path transform="translate(300.641 117.000) scale(0.005762 -0.005762)" d="M763 0H583V1147Q518 1085 412.5 1023Q307 961 223 930V1104Q374 1175 487 1276Q600 1377 647 1466H763Z" fill="#1a1a1a" stroke="#1a1a1a" stroke-width="26.03"/>
<path transform="translate(306.641 117.000) scale(0.005762 -0.005762)" d="M763 0H583V1147Q518 1085 412.5 1023Q307 961 223 930V1104Q374 1175 487 1276Q600 1377 647 1466H763Z" fill="#1a1a1a" stroke="#1a1a1a" stroke-width="26.03"/>
<path transform="translate(368.641 117.000) scale(0.005762 -0.005762)" d="M763 0H583V1147Q518 1085 412.5 1023Q307 961 223 930V1104Q374 1175 487 1276Q600 1377 647 1466H763Z" fill="#1a1a1a" stroke="#1a1a1a" stroke-width="26.03"/>
<path transform="translate(385.926 172.000) scale(0.005273 -0.005273)" d="M763 0H583V1147Q518 1085 412.5 1023Q307 961 223 930V1104Q374 1175 487 1276Q600 1377 647 1466H763Z" fill="#1a1a1a" stroke="#1a1a1a" stroke-width="28.44"/>
<path transform="translate(495.812 141.000) scale(0.005469 -0.005797)" d="M763 0H583V1147Q518 1085 412.5 1023Q307 961 223 930V1104Q374 1175 487 1276Q600 1377 647 1466H763Z" fill="#1a1a1a" stroke="#1a1a1a" stroke-width="27.43"/>
<path transform="translate(24.812 260.000) scale(0.005469 -0.005797)" d="M763 0H583V1147Q518 1085 412.5 1023Q307 961 223 930V1104Q374 1175 487 1276Q600 1377 647 1466H763Z" fill="#1a1a1a" stroke="#1a1a1a" stroke-width="27.43"/>
<path transform="translate(399.812 374.000) scale(0.005469 -0.005797)" d="M763 0H583V1147Q518 1085 412.5 1023Q307 961 223 930V1104Q374 1175 487 1276Q600 1377 647 1466H763Z" fill="#1a1a1a" stroke="#1a1a1a" stroke-width="27.43"/>
<path transform="translate(423.812 374.000) scale(0.005469 -0.005797)" d="M763 0H583V1147Q518 1085 412.5 1023Q307 961 223 930V1104Q374 1175 487 1276Q600 1377 647 1466H763Z" fill="#1a1a1a" stroke="#1a1a1a" stroke-width="27.43"/>
<path transform="translate(259.812 234.000) scale(0.005469 -0.005797)" d="M763 0H583V1147Q518 1085 412.5 1023Q307 961 223 930V1104Q374 1175 487 1276Q600 1377 647 1466H763Z" fill="#1a1a1a" stroke="#1a1a1a" stroke-width="27.43"/>
<path transform="translate(259.812 266.000) scale(0.005469 -0.005797)" d="M763 0H583V1147Q518 1085 412.5 1023Q307 961 223 930V1104Q374 1175 487 1276Q600 1377 647 1466H763Z" fill="#1a1a1a" stroke="#1a1a1a" stroke-width="27.43"/>
<path transform="translate(657.812 374.000) scale(0.005469 -0.005797)" d="M763 0H583V1147Q518 1085 412.5 1023Q307 961 223 930V1104Q374 1175 487 1276Q600 1377 647 1466H763Z" fill="#1a1a1a" stroke="#1a1a1a" stroke-width="27.43"/>
<path transform="translate(495.812 234.000) scale(0.005469 -0.005797)" d="M763 0H583V1147Q518 1085 412.5 1023Q307 961 223 930V1104Q374 1175 487 1276Q600 1377 647 1466H763Z" fill="#1a1a1a" stroke="#1a1a1a" stroke-width="27.43"/>
<path transform="translate(495.812 267.000) scale(0.005469 -0.005797)" d="M763 0H583V1147Q518 1085 412.5 1023Q307 961 223 930V1104Q374 1175 487 1276Q600 1377 647 1466H763Z" fill="#1a1a1a" stroke="#1a1a1a" stroke-width="27.43"/>
</svg></body></html>
